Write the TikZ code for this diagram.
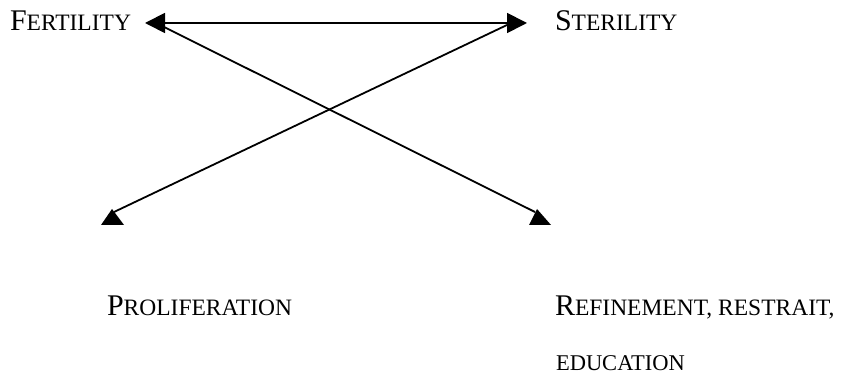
\documentclass[tikz,border=0pt]{standalone}
\usepackage{fontspec}
\setmainfont{Liberation Serif}
\usetikzlibrary{arrows.meta}
\newcommand\bigc[1]{{\fontsize{30}{34}\selectfont #1}}
\newcommand\smc[1]{{\fontsize{23.5}{28}\selectfont #1}}
\newcommand\smcb[1]{{\fontsize{22.5}{27}\selectfont #1}}
\tikzset{
  lbl/.style={anchor=base west, inner sep=0pt, outer sep=0pt},
  ln/.style={line width=1.8pt},
  bothtip/.style={{Triangle[length=20pt,width=20pt]}-{Triangle[length=20pt,width=20pt]}},
}
\begin{document}
\begin{tikzpicture}[x=1pt,y=-1pt]
\useasboundingbox (0,0) rectangle (848,379);
\node[lbl] (fert) at (10,31) {\bigc{F}\smc{ERTILITY}};
\node[lbl] (ster) at (555,31) {\bigc{S}\smc{TERILITY}};
\node[lbl] (prol) at (107,315) {\bigc{P}\smc{ROLIFERATION}};
\node[lbl] (refi) at (555,315) {\bigc{R}\smc{EFINEMENT, RESTRAIT,}};
\node[lbl] (educ) at (556,370) {\smcb{EDUCATION}};
\coordinate (fl) at (145,23);
\coordinate (sr) at (527,23);
\coordinate (fs) at (160,25);
\coordinate (ss) at (507,25);
\coordinate (pe) at (114,212);
\coordinate (re) at (535,212);
\draw[ln,bothtip] (fl) -- (sr);
\draw[ln] (fs) -- (re);
\draw[ln] (ss) -- (pe);
\fill (pe) ++(-2,-3) -- ++(-11,16) -- ++(23,0) -- cycle;
\fill (re) ++(2,-3) -- ++(-8,16) -- ++(22,0) -- cycle;
\end{tikzpicture}
\end{document}
